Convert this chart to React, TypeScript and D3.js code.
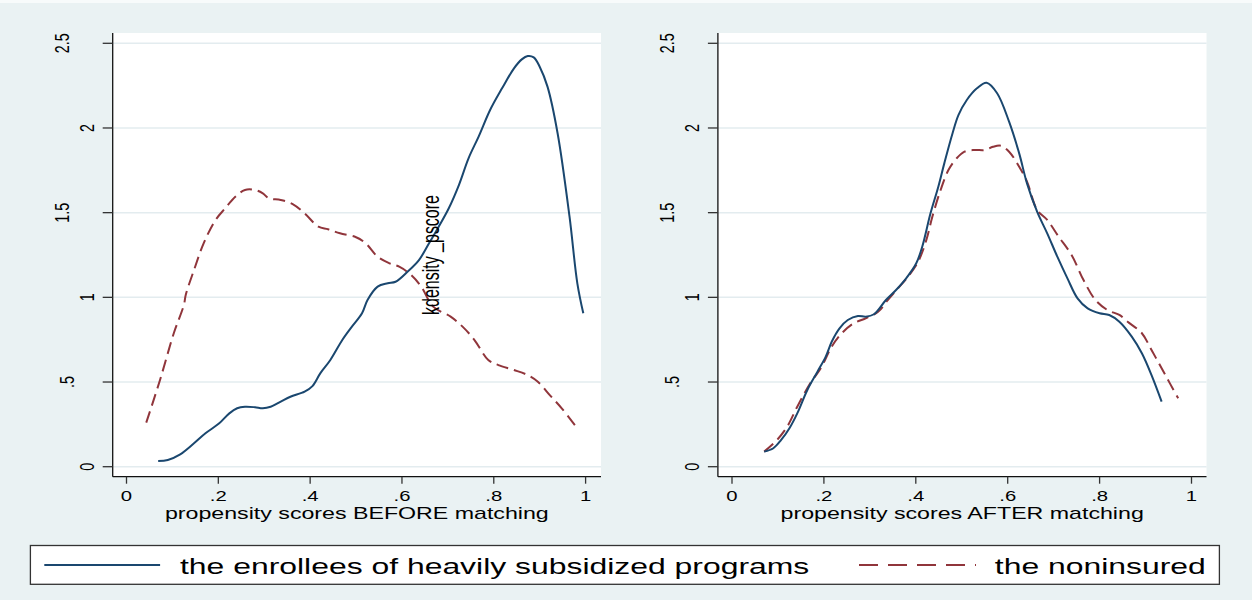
import React, { useEffect } from "react";
import * as d3 from "d3";

// ---------- data ----------
const X_TICKS = [0, 0.2, 0.4, 0.6, 0.8, 1];
const X_TICK_LABELS = ["0", ".2", ".4", ".6", ".8", "1"];
const Y_TICKS = [0, 0.5, 1, 1.5, 2, 2.5];
const Y_TICK_LABELS = ["0", ".5", "1", "1.5", "2", "2.5"];

const SERIES_NAMES = ["the enrollees of heavily subsidized programs", "the noninsured"];
const PANEL_TITLES = ["propensity scores BEFORE matching", "propensity scores AFTER matching"];
const Y_TITLE = "kdensity _pscore";

const beforeEnrollees: [number, number][] = [
  [0.069, 0.034], [0.09, 0.04], [0.117, 0.073], [0.147, 0.138], [0.172, 0.197], [0.202, 0.256],
  [0.224, 0.315], [0.241, 0.345], [0.258, 0.354], [0.28, 0.351], [0.297, 0.345], [0.314, 0.354],
  [0.336, 0.384], [0.357, 0.413], [0.388, 0.443], [0.405, 0.476], [0.422, 0.551], [0.444, 0.63],
  [0.47, 0.748], [0.491, 0.827], [0.513, 0.906], [0.525, 0.984], [0.547, 1.063], [0.569, 1.083],
  [0.586, 1.092], [0.612, 1.151], [0.637, 1.22], [0.659, 1.319], [0.68, 1.417], [0.702, 1.526],
  [0.724, 1.663], [0.745, 1.821], [0.767, 1.949], [0.792, 2.106], [0.818, 2.234], [0.844, 2.352],
  [0.861, 2.405], [0.874, 2.425], [0.887, 2.417], [0.9, 2.362], [0.917, 2.244], [0.939, 1.969],
  [0.965, 1.476], [0.982, 1.083], [0.995, 0.906],
];

const beforeNoninsured: [number, number][] = [
  [0.043, 0.26], [0.073, 0.512], [0.103, 0.788], [0.125, 0.955], [0.129, 1.014], [0.147, 1.161],
  [0.168, 1.319], [0.194, 1.457], [0.215, 1.526], [0.237, 1.594], [0.258, 1.634], [0.28, 1.634],
  [0.297, 1.614], [0.31, 1.585], [0.336, 1.575], [0.362, 1.551], [0.388, 1.496], [0.418, 1.417],
  [0.439, 1.402], [0.465, 1.378], [0.5, 1.355], [0.521, 1.319], [0.547, 1.24], [0.573, 1.201],
  [0.594, 1.181], [0.62, 1.132], [0.642, 1.063], [0.668, 0.945], [0.706, 0.886], [0.732, 0.827],
  [0.758, 0.748], [0.788, 0.63], [0.81, 0.6], [0.844, 0.571], [0.874, 0.541], [0.896, 0.502],
  [0.922, 0.423], [0.948, 0.345], [0.978, 0.24],
];

const afterEnrollees: [number, number][] = [
  [0.07, 0.089], [0.09, 0.109], [0.107, 0.158], [0.125, 0.227], [0.142, 0.315], [0.164, 0.453],
  [0.186, 0.561], [0.204, 0.65], [0.217, 0.738], [0.234, 0.817], [0.252, 0.866], [0.274, 0.89],
  [0.291, 0.886], [0.309, 0.9], [0.335, 0.984], [0.357, 1.043], [0.379, 1.112], [0.401, 1.201],
  [0.414, 1.299], [0.432, 1.496], [0.449, 1.653], [0.462, 1.791], [0.48, 1.969], [0.493, 2.077],
  [0.511, 2.165], [0.533, 2.234], [0.554, 2.267], [0.577, 2.205], [0.603, 2.037], [0.625, 1.85],
  [0.642, 1.673], [0.664, 1.506], [0.686, 1.378], [0.708, 1.24], [0.73, 1.112], [0.752, 0.994],
  [0.774, 0.935], [0.8, 0.906], [0.821, 0.896], [0.843, 0.856], [0.87, 0.768], [0.892, 0.67],
  [0.913, 0.541], [0.935, 0.384],
];

const afterNoninsured: [number, number][] = [
  [0.07, 0.089], [0.098, 0.158], [0.12, 0.236], [0.142, 0.354], [0.168, 0.482], [0.195, 0.59],
  [0.217, 0.709], [0.239, 0.788], [0.265, 0.847], [0.291, 0.876], [0.318, 0.915], [0.339, 0.984],
  [0.361, 1.053], [0.383, 1.122], [0.405, 1.21], [0.423, 1.339], [0.436, 1.476], [0.454, 1.634],
  [0.471, 1.752], [0.489, 1.821], [0.506, 1.86], [0.528, 1.87], [0.55, 1.87], [0.568, 1.889],
  [0.585, 1.895], [0.603, 1.86], [0.625, 1.771], [0.642, 1.683], [0.664, 1.516], [0.686, 1.457],
  [0.711, 1.358], [0.739, 1.25], [0.765, 1.102], [0.791, 0.984], [0.817, 0.925], [0.843, 0.896],
  [0.861, 0.856], [0.892, 0.788], [0.913, 0.689], [0.935, 0.581], [0.953, 0.492], [0.971, 0.404],
];

// ---------- styling / layout ----------
const W = 1252;
const H = 600;
const BG = "#eaf2f3";
const GRID = "#e3ecef";
const NAVY = "#1a476f";
const MAROON = "#90353b";
const FONT = "'Liberation Sans', Arial, Helvetica, sans-serif";
const STRETCH = 1.45;

const Y_RANGE: [number, number] = [466.7, 43.3];
const PLOT_TOP = 33;
const PLOT_BOTTOM = 476.7;

const panels = [
  { axisX: 112.7, right: 601, x0: 126.5, x1: 585.6, title: PANEL_TITLES[0], a: beforeEnrollees, b: beforeNoninsured, showYTitle: true },
  { axisX: 717.9, right: 1206.5, x0: 732, x1: 1191.5, title: PANEL_TITLES[1], a: afterEnrollees, b: afterNoninsured, showYTitle: false },
];

function yLabelOffset(label: string) {
  if (label.length === 1) return 19;
  if (label.length === 2) return 38.5;
  return 43.5;
}

function Panel({ p }: { p: (typeof panels)[number] }) {
  const x = d3.scaleLinear().domain([0, 1]).range([p.x0, p.x1]);
  const y = d3.scaleLinear().domain([0, 2.5]).range(Y_RANGE);
  const line = d3
    .line<[number, number]>()
    .x((d) => x(d[0]))
    .y((d) => y(d[1]))
    .curve(d3.curveCatmullRom.alpha(0.5));
  const cx = (p.axisX + p.right) / 2;
  return (
    <g>
      <rect x={p.axisX} y={PLOT_TOP} width={p.right - p.axisX} height={PLOT_BOTTOM - PLOT_TOP} fill="#ffffff" />
      {Y_TICKS.map((t) => (
        <line key={"g" + t} x1={p.axisX} x2={p.right} y1={y(t)} y2={y(t)} stroke={GRID} strokeWidth={1.5} />
      ))}
      <path d={line(p.b) || ""} fill="none" stroke={MAROON} strokeWidth={2} strokeDasharray="12,6" />
      <path d={line(p.a) || ""} fill="none" stroke={NAVY} strokeWidth={2} />
      {/* axes */}
      <line x1={p.axisX} x2={p.axisX} y1={PLOT_TOP} y2={PLOT_BOTTOM} stroke="#111" strokeWidth={1.3} />
      <line x1={p.axisX} x2={p.right} y1={PLOT_BOTTOM} y2={PLOT_BOTTOM} stroke="#111" strokeWidth={1.3} />
      {Y_TICKS.map((t, i) => (
        <g key={"y" + t}>
          <line x1={p.axisX - 10} x2={p.axisX} y1={y(t)} y2={y(t)} stroke="#333" strokeWidth={1.3} />
          <text
            transform={`translate(${p.axisX - yLabelOffset(Y_TICK_LABELS[i])},${y(t)}) scale(${STRETCH},1) rotate(-90)`}
            textAnchor="middle"
            fontFamily={FONT}
            fontSize={14.4}
            fill="#000"
          >
            {Y_TICK_LABELS[i]}
          </text>
        </g>
      ))}
      {X_TICKS.map((t, i) => (
        <g key={"x" + t}>
          <line x1={x(t)} x2={x(t)} y1={PLOT_BOTTOM} y2={PLOT_BOTTOM + 7} stroke="#333" strokeWidth={1.3} />
          <text
            transform={`translate(${x(t)},500.6) scale(${STRETCH},1)`}
            textAnchor="middle"
            fontFamily={FONT}
            fontSize={14}
            fill="#000"
          >
            {X_TICK_LABELS[i]}
          </text>
        </g>
      ))}
      <text
        transform={`translate(${cx},518.6) scale(${STRETCH},1)`}
        textAnchor="middle"
        fontFamily={FONT}
        fontSize={16}
        fill="#000"
      >
        {p.title}
      </text>
      {p.showYTitle && (
        <text
          transform={`translate(438.5,255) scale(${STRETCH},1) rotate(-90)`}
          textAnchor="middle"
          fontFamily={FONT}
          fontSize={16}
          fill="#000"
        >
          {Y_TITLE}
        </text>
      )}
    </g>
  );
}

export default function App() {
  useEffect(() => {
    document.body.style.margin = "0";
  }, []);
  return (
    <svg width={W} height={H} style={{ position: "fixed", left: 0, top: 0, display: "block" }}>
      <rect x={0} y={0} width={W} height={H} fill={BG} />
      <rect x={0} y={0} width={W} height={3} fill="#f8fbfb" />
      {panels.map((p, i) => (
        <Panel key={i} p={p} />
      ))}
      {/* legend */}
      <rect x={30.4} y={545.5} width={1219.4 - 30.4} height={38.8} fill="#ffffff" stroke="#333" strokeWidth={1.3} />
      <line x1={44.3} x2={160.1} y1={565} y2={565} stroke={NAVY} strokeWidth={2} />
      <text transform={`translate(180,574.3) scale(${STRETCH},1)`} fontFamily={FONT} fontSize={22} fill="#000">
        {SERIES_NAMES[0]}
      </text>
      <line x1={859} x2={976} y1={565} y2={565} stroke={MAROON} strokeWidth={2} strokeDasharray="19,10" />
      <text transform={`translate(994.8,574.3) scale(${STRETCH},1)`} fontFamily={FONT} fontSize={22} fill="#000">
        {SERIES_NAMES[1]}
      </text>
    </svg>
  );
}
